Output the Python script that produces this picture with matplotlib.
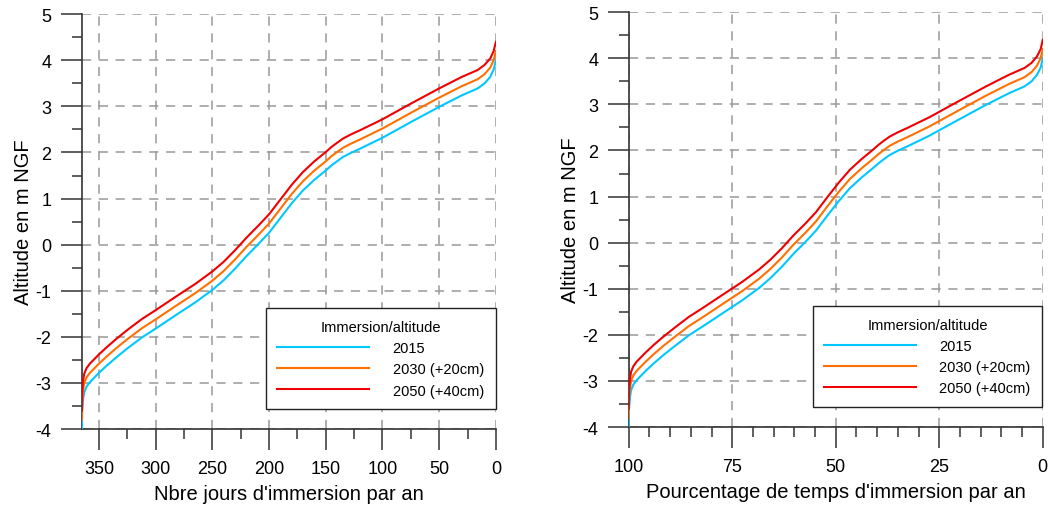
import numpy as np
import matplotlib.pyplot as plt
from matplotlib.ticker import MultipleLocator

plt.rcParams['font.family'] = ['Liberation Sans', 'DejaVu Sans']
plt.rcParams['axes.unicode_minus'] = False

# values
days = [365, 364.8, 364, 363, 361, 358, 354, 350, 343, 335, 325, 312, 300, 283, 265, 250,
        240, 230, 220, 210, 200, 190, 180, 170, 160, 150, 145, 140, 135, 128, 120, 100,
        75, 50, 30, 16, 10, 5, 2, 0]
pct = [100, 99.95, 99.7, 99.45, 98.9, 98.1, 97.0, 95.9, 94.0, 91.8, 89.0, 85.5, 82.2, 77.5,
       72.6, 68.5, 65.8, 63.0, 60.3, 57.5, 54.8, 52.1, 49.3, 46.6, 43.8, 41.1, 39.7, 38.4,
       37.0, 35.1, 32.9, 27.4, 20.5, 13.7, 8.2, 4.4, 2.7, 1.4, 0.5, 0]
alt_2015 = [-4.0, -3.6, -3.35, -3.2, -3.08, -2.98, -2.88, -2.78, -2.62, -2.45, -2.25, -2.01,
            -1.82, -1.54, -1.25, -0.98, -0.77, -0.52, -0.25, 0.0, 0.26, 0.58, 0.90, 1.18,
            1.41, 1.61, 1.72, 1.81, 1.90, 1.99, 2.08, 2.32, 2.66, 2.99, 3.24, 3.39, 3.50,
            3.64, 3.80, 4.00]
alt_2030 = [-3.8, -3.4, -3.15, -3.0, -2.88, -2.78, -2.68, -2.58, -2.42, -2.25, -2.05, -1.81,
            -1.62, -1.34, -1.05, -0.78, -0.57, -0.32, -0.05, 0.2, 0.46, 0.78, 1.10, 1.38,
            1.61, 1.81, 1.92, 2.01, 2.10, 2.19, 2.28, 2.52, 2.86, 3.19, 3.44, 3.59, 3.70,
            3.84, 4.00, 4.20]
alt_2050 = [-3.6, -3.2, -2.95, -2.8, -2.68, -2.58, -2.48, -2.38, -2.22, -2.05, -1.85, -1.61,
            -1.42, -1.14, -0.85, -0.58, -0.37, -0.12, 0.15, 0.4, 0.66, 0.98, 1.30, 1.58,
            1.81, 2.01, 2.12, 2.21, 2.30, 2.39, 2.48, 2.72, 3.06, 3.39, 3.64, 3.79, 3.90,
            4.04, 4.20, 4.40]
labels = ['2015', '2030 (+20cm)', '2050 (+40cm)']
colors = ['#00c8ff', '#ff7000', '#f00000']

fig = plt.figure(figsize=(10.48, 5.06), dpi=100)
ax1 = fig.add_axes([0.0782, 0.150, 0.395, 0.820])
ax2 = fig.add_axes([0.600, 0.154, 0.395, 0.820])

setups = [
    (ax1, days, (365, 0), 50, 25, "Nbre jours d'immersion par an"),
    (ax2, pct, (100, 0), 25, 5, "Pourcentage de temps d'immersion par an"),
]

for ax, xs, xlim, major, minor, xlabel in setups:
    for ys, lab, c in zip([alt_2015, alt_2030, alt_2050], labels, colors):
        ax.plot(xs, ys, color=c, lw=1.5, label=lab, zorder=3)
    ax.set_xlim(*xlim)
    ax.set_ylim(-4, 5)
    ax.xaxis.set_major_locator(MultipleLocator(major))
    ax.xaxis.set_minor_locator(MultipleLocator(minor))
    ax.yaxis.set_major_locator(MultipleLocator(1))
    ax.yaxis.set_minor_locator(MultipleLocator(0.5))
    ax.grid(True, which='major', color='#999999', lw=1.1, linestyle=(0, (6, 5)))
    for s in ['top', 'right']:
        ax.spines[s].set_visible(False)
    for s in ['left', 'bottom']:
        ax.spines[s].set_color('#333333')
        ax.spines[s].set_linewidth(1.2)
    ax.tick_params(which='major', length=15, width=1.1, color='#333333', labelsize=13, pad=7)
    ax.tick_params(which='minor', length=7.5, width=1.1, color='#333333')
    ax.set_xlabel(xlabel, fontsize=14.5, labelpad=5)
    ax.set_ylabel('Altitude en m NGF', fontsize=14.5, labelpad=2)
    leg = ax.legend(title='Immersion/altitude', loc='lower left', bbox_to_anchor=(0.444, 0.048),
                    borderaxespad=0, fontsize=10.5, title_fontsize=10.5, handlelength=6.3,
                    handletextpad=1.6, borderpad=0.8, labelspacing=0.5, fancybox=False,
                    framealpha=1, edgecolor='#222222')
    leg.get_frame().set_linewidth(1.0)
    leg.set_zorder(5)

fig.savefig('out.png', dpi=100)
